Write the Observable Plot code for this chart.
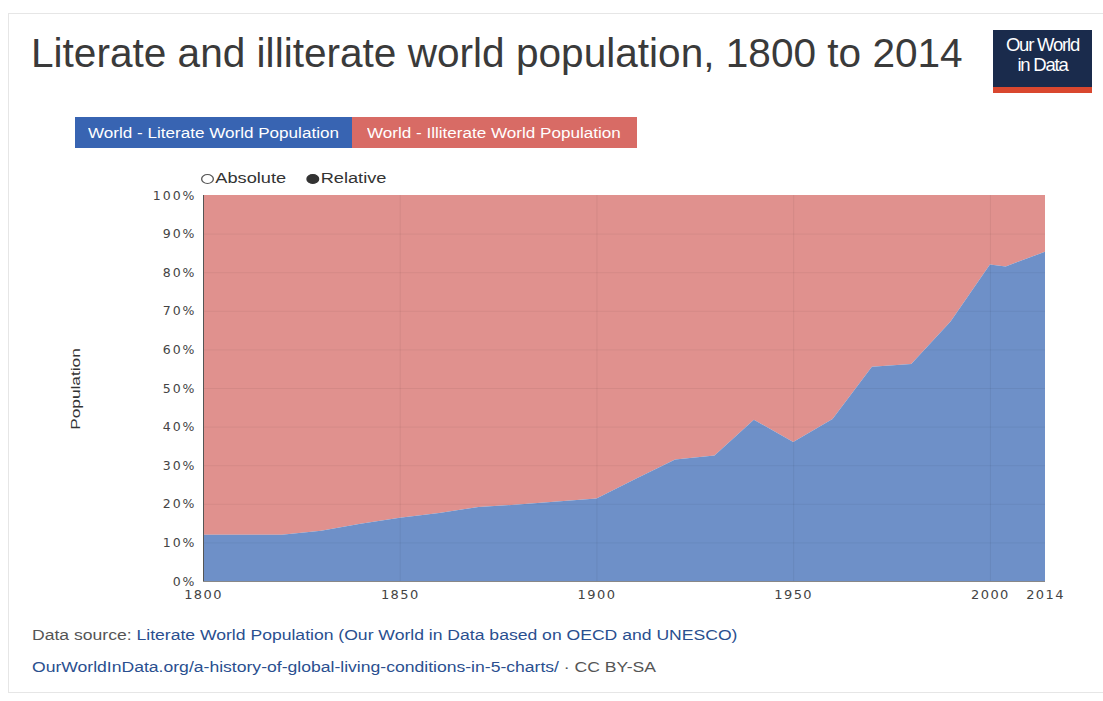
<!DOCTYPE html>
<html>
<head>
<meta charset="utf-8">
<script src="https://cdn.jsdelivr.net/npm/d3@7"></script>
<script src="https://cdn.jsdelivr.net/npm/@observablehq/plot@0.6"></script>
<style>
  html, body { margin: 0; padding: 0; background: #fff; width: 1103px; height: 701px; overflow: hidden; font-family: "Liberation Sans", Arial, sans-serif; }
  #frame { position: absolute; left: 8px; top: 13px; width: 1100px; height: 680px; border: 1px solid #e6e6e6; box-sizing: border-box; }
  #title { position: absolute; left: 31px; top: 30px; font-size: 40.6px; color: #3a3a3a; white-space: nowrap; }
  #logo { position: absolute; left: 993px; top: 30px; width: 99px; height: 63px; background: #1a2b4c; color: #fff; text-align: center; font-size: 18.5px; line-height: 20px; box-sizing: border-box; padding-top: 5px; letter-spacing: -1.2px; }
  #logo .bar { position: absolute; left: 0; bottom: 0; width: 100%; height: 6px; background: #d9472f; }
  .btn { position: absolute; top: 117px; height: 31px; line-height: 31px; color: #fff; box-sizing: border-box; white-space: nowrap; }
  .btn span { display: inline-block; transform-origin: 0 50%; font-size: 14px; transform: scaleX(1.22); }
  #b1 { left: 75px; width: 277px; background: #3864b2; padding-left: 13px; }
  #b2 { left: 352px; width: 285px; background: #d86b65; padding-left: 15px; }
  #radio { position: absolute; left: 201px; top: 170px; font-size: 14px; color: #333; white-space: nowrap; transform: scaleX(1.3); transform-origin: 0 50%; }
  .dot { display: inline-block; width: 10px; height: 10px; border-radius: 50%; border: 1px solid #555; vertical-align: -1px; box-sizing: border-box; margin-right: 1px; }
  .dot.on { background: #333; border-color: #333; }
  #ylab { position: absolute; left: 75px; top: 389px; transform: translate(-50%, -50%) rotate(-90deg) scaleX(1.33); font-size: 13px; color: #333; white-space: nowrap; }
  #chart { position: absolute; left: 0; top: 180px; }
  #chart g[aria-label="y-axis tick label"] text { letter-spacing: 2px; }
  #chart g[aria-label="x-axis tick label"] text { letter-spacing: 1.4px; }
  .foot { position: absolute; left: 32px; font-size: 14px; white-space: nowrap; color: #555; transform: scaleX(1.255); transform-origin: 0 50%; }
  .foot a { color: #2a4f8f; text-decoration: none; }
</style>
</head>
<body>
<div id="frame"></div>
<div id="title">Literate and illiterate world population, 1800 to 2014</div>
<div id="logo">Our World<br>in Data<div class="bar"></div></div>
<div class="btn" id="b1"><span>World - Literate World Population</span></div>
<div class="btn" id="b2"><span>World - Illiterate World Population</span></div>
<div id="radio"><span class="dot"></span>Absolute &nbsp;&nbsp;&nbsp;<span class="dot on"></span>Relative</div>
<div id="ylab">Population</div>
<div id="chart"></div>
<div class="foot" style="top:627px">Data source: <a>Literate World Population (Our World in Data based on OECD and UNESCO)</a></div>
<div class="foot" style="top:659px"><a>OurWorldInData.org/a-history-of-global-living-conditions-in-5-charts/</a> · CC BY-SA</div>
<script>
const years    = [1800, 1820, 1830, 1840, 1850, 1860, 1870, 1880, 1890, 1900, 1910, 1920, 1930, 1940, 1950, 1960, 1970, 1980, 1990, 2000, 2004, 2014];
const literate = [12.0, 12.0, 13.0, 14.8, 16.4, 17.6, 19.2, 19.8, 20.6, 21.4, 26.5, 31.5, 32.5, 41.8, 36.0, 42.0, 55.5, 56.2, 67.2, 82.0, 81.5, 85.3];
const xTicks = [1800, 1850, 1900, 1950, 2000, 2014];
const yTicks = [0, 10, 20, 30, 40, 50, 60, 70, 80, 90, 100];
const seriesNames = ["World - Literate World Population", "World - Illiterate World Population"];
const seriesColors = ["#6e90c8", "#e0918e"];

const rows = years.map((y, i) => ({year: y, lit: literate[i], top: 100}));

const plot = Plot.plot({
  width: 1103,
  height: 430,
  marginLeft: 203,
  marginRight: 58,
  marginTop: 15,
  marginBottom: 29,
  style: {fontFamily: "'DejaVu Sans', Arial, sans-serif", fontSize: "12px", color: "#555", background: "transparent"},
  x: {domain: [1800, 2014], ticks: xTicks, tickFormat: d => String(d), tickSize: 0, tickPadding: 7, label: null},
  y: {domain: [0, 100], ticks: yTicks, tickFormat: d => d + "%", tickSize: 0, tickPadding: 6, label: null},
  color: {domain: seriesNames, range: seriesColors},
  marks: [
    Plot.areaY(rows, {x: "year", y1: "lit", y2: "top", fill: () => seriesNames[1]}),
    Plot.areaY(rows, {x: "year", y1: 0, y2: "lit", fill: () => seriesNames[0]}),
    Plot.gridX(xTicks.slice(1, 5), {stroke: "#000", strokeOpacity: 0.06}),
    Plot.gridY(yTicks.slice(1, 10), {stroke: "#000", strokeOpacity: 0.05}),
    Plot.ruleX([1800], {stroke: "#555", strokeWidth: 1}),
    Plot.ruleY([0], {stroke: "#888", strokeWidth: 1}),
    Plot.axisX({ticks: xTicks, tickFormat: d => String(d), tickSize: 0, tickPadding: 8, fontSize: 13, fill: "#444"}),
    Plot.axisY({ticks: yTicks, tickFormat: d => d + "%", tickSize: 0, tickPadding: 7, fontSize: 12.5, fill: "#444"})
  ]
});
document.getElementById("chart").appendChild(plot);
</script>
</body>
</html>
